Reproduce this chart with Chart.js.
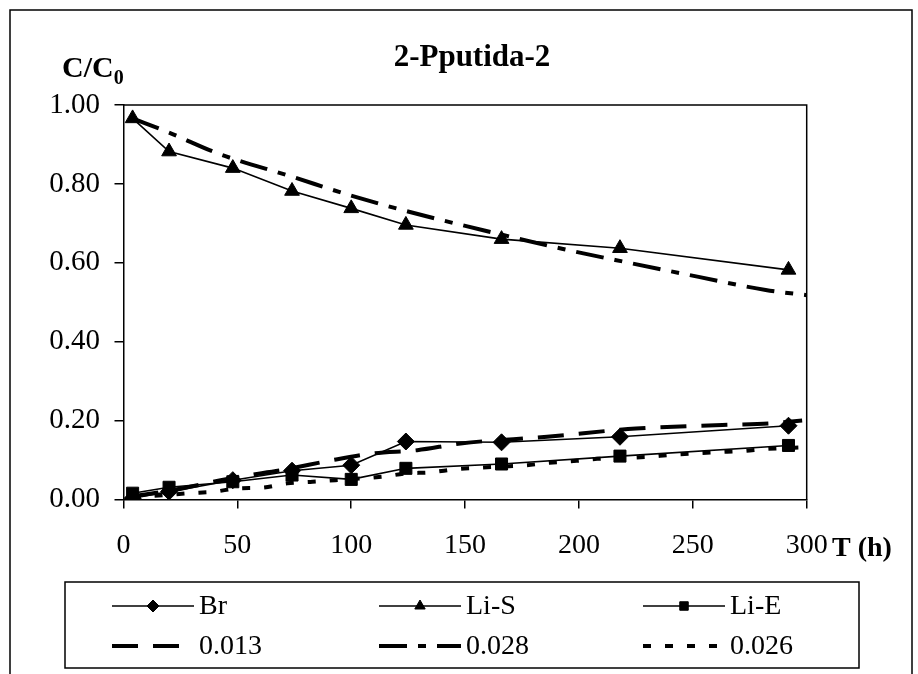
<!DOCTYPE html>
<html>
<head>
<meta charset="utf-8">
<script src="https://cdn.jsdelivr.net/npm/chart.js@4/dist/chart.umd.min.js"></script>
<style>
  html, body { margin: 0; padding: 0; background: #fff; }
  #wrap { width: 918px; height: 674px; }
</style>
</head>
<body>
<div id="wrap"><canvas id="c" width="918" height="674"></canvas></div>
<script>
// Sampling times (h) and measured relative concentrations C/C0
const times = [4, 20, 48, 74, 100, 124, 166, 218, 292];
const brValues = [0.003, 0.020, 0.049, 0.073, 0.087, 0.147, 0.145, 0.159, 0.187];
const liSValues = [0.966, 0.882, 0.840, 0.782, 0.738, 0.696, 0.660, 0.637, 0.582];
const liEValues = [0.016, 0.031, 0.045, 0.062, 0.051, 0.079, 0.090, 0.110, 0.137];

// Fitted model curves (labelled by their parameter)
const fit013Times = [4, 20, 51, 70, 92, 110, 129, 148, 186, 225, 263, 284, 298];
const fit013Values = [0.008, 0.022, 0.058, 0.075, 0.100, 0.117, 0.125, 0.142, 0.159, 0.180, 0.189, 0.193, 0.200];
const fit028Times = [4, 20, 42, 73, 103, 133, 162, 193, 222, 252, 282, 300];
const fit028Values = [0.966, 0.930, 0.876, 0.820, 0.765, 0.718, 0.677, 0.635, 0.600, 0.565, 0.531, 0.518];
const fit026Times = [4, 29, 40, 50, 61, 72, 83, 93, 114, 124, 135, 146, 157, 177, 187, 199, 208, 230, 240, 251, 261, 272, 282, 298];
const fit026Values = [0.005, 0.016, 0.020, 0.028, 0.030, 0.041, 0.045, 0.049, 0.058, 0.066, 0.069, 0.077, 0.081, 0.087, 0.093, 0.098, 0.103, 0.108, 0.113, 0.117, 0.120, 0.123, 0.128, 0.132];

const seriesLabels = ['Br', 'Li-S', 'Li-E', '0.013', '0.028', '0.026'];
const xTicks = [0, 50, 100, 150, 200, 250, 300];
const yTicks = [0, 0.2, 0.4, 0.6, 0.8, 1.0];

const chartTitle = '2-Pputida-2';
const xTitle = 'T (h)';

const SERIF = '"Liberation Serif", "Times New Roman", serif';
const toXY = (xs, ys) => xs.map((x, i) => ({ x: x, y: ys[i] }));

function measured(label, xs, ys, style, radius) {
  return {
    label: label, data: toXY(xs, ys),
    borderColor: '#000', backgroundColor: '#000', borderWidth: 1.6,
    pointStyle: style, pointRadius: radius, pointBorderWidth: 1,
    pointBackgroundColor: '#000', pointBorderColor: '#000',
    tension: 0, fill: false
  };
}
function fitted(label, xs, ys, dash) {
  return {
    label: label, data: toXY(xs, ys),
    borderColor: '#000', backgroundColor: '#000', borderWidth: 4,
    borderDash: dash, borderCapStyle: 'butt',
    pointRadius: 0, tension: 0.3, cubicInterpolationMode: 'monotone', fill: false
  };
}

const datasets = [
  measured(seriesLabels[0], times, brValues, 'rectRot', 8.5),
  measured(seriesLabels[1], times, liSValues, 'triangle', 8.5),
  measured(seriesLabels[2], times, liEValues, 'rect', 8.5),
  fitted(seriesLabels[3], fit013Times, fit013Values, [26, 15]),
  fitted(seriesLabels[4], fit028Times, fit028Values, [28, 11, 8, 11]),
  fitted(seriesLabels[5], fit026Times, fit026Values, [8, 14])
];

// Page background, outer frame, plot box, titles and the boxed legend
const decorations = {
  id: 'decorations',
  beforeDraw(chart) {
    const ctx = chart.ctx;
    ctx.save();
    ctx.fillStyle = '#fff';
    ctx.fillRect(0, 0, chart.width, chart.height);
    ctx.strokeStyle = '#000';
    ctx.lineWidth = 1.5;
    ctx.strokeRect(10, 10, 902, 680);
    ctx.restore();
  },
  afterDraw(chart) {
    const ctx = chart.ctx;
    const a = chart.chartArea;
    ctx.save();
    // top and right edges of the plot box
    ctx.strokeStyle = '#000';
    ctx.lineWidth = 1.5;
    ctx.beginPath();
    ctx.moveTo(a.left, a.top);
    ctx.lineTo(a.right, a.top);
    ctx.lineTo(a.right, a.bottom);
    ctx.stroke();

    ctx.fillStyle = '#000';
    // chart title
    ctx.font = 'bold 31px ' + SERIF;
    ctx.textAlign = 'center';
    ctx.textBaseline = 'alphabetic';
    ctx.fillText(chartTitle, 472, 66);

    // y-axis title C/C0 with subscript
    ctx.textAlign = 'left';
    ctx.font = 'bold 30px ' + SERIF;
    ctx.fillText('C/C', 62, 77);
    const w = ctx.measureText('C/C').width;
    ctx.font = 'bold 20px ' + SERIF;
    ctx.fillText('0', 62 + w, 84);

    // x-axis title
    ctx.font = 'bold 28px ' + SERIF;
    ctx.textBaseline = 'middle';
    ctx.fillText(xTitle, 832, 549);

    // legend box
    ctx.lineWidth = 1.5;
    ctx.strokeRect(65, 582, 794, 86);
    const colX = [112, 379, 643];
    const rowY = [606, 646];
    const sampleLen = 82;
    chart.data.datasets.forEach((ds, i) => {
      const x0 = colX[i % 3];
      const y = rowY[Math.floor(i / 3)];
      ctx.save();
      ctx.strokeStyle = ds.borderColor;
      ctx.lineWidth = ds.borderWidth;
      ctx.lineCap = 'butt';
      ctx.setLineDash(ds.borderDash || []);
      ctx.beginPath();
      ctx.moveTo(x0, y);
      ctx.lineTo(x0 + sampleLen, y);
      ctx.stroke();
      ctx.restore();
      if (ds.pointRadius > 0) {
        ctx.save();
        ctx.fillStyle = '#000';
        ctx.strokeStyle = '#000';
        ctx.lineWidth = 1;
        Chart.helpers.drawPoint(ctx, {
          pointStyle: ds.pointStyle, radius: 6, borderWidth: 1, rotation: 0
        }, x0 + sampleLen / 2, y);
        ctx.restore();
      }
      ctx.font = '28px ' + SERIF;
      ctx.textAlign = 'left';
      ctx.textBaseline = 'middle';
      ctx.fillStyle = '#000';
      ctx.fillText(ds.label, x0 + sampleLen + 5, y + 1);
    });
    ctx.restore();
  }
};

new Chart(document.getElementById('c'), {
  type: 'line',
  data: { datasets: datasets },
  options: {
    responsive: false,
    animation: false,
    devicePixelRatio: 1,
    layout: { padding: { left: 23.5, top: 105, right: 111.3, bottom: 94.5 } },
    scales: {
      x: {
        type: 'linear', min: xTicks[0], max: xTicks[xTicks.length - 1],
        afterBuildTicks: s => { s.ticks = xTicks.map(v => ({ value: v })); },
        afterFit: s => { s.height = 80; },
        ticks: { color: '#000', font: { family: SERIF, size: 28 }, padding: 20, maxRotation: 0,
                 callback: v => String(v) },
        grid: { drawOnChartArea: false, tickLength: 9, color: '#000', lineWidth: 1.5 },
        border: { display: true, color: '#000', width: 1.5 }
      },
      y: {
        type: 'linear', min: yTicks[0], max: yTicks[yTicks.length - 1],
        afterBuildTicks: s => { s.ticks = yTicks.map(v => ({ value: v })); },
        afterFit: s => { s.width = 100; },
        ticks: { color: '#000', font: { family: SERIF, size: 29 }, padding: 14.5,
                 callback: v => Number(v).toFixed(2) },
        grid: { drawOnChartArea: false, tickLength: 9, color: '#000', lineWidth: 1.5 },
        border: { display: true, color: '#000', width: 1.5 }
      }
    },
    plugins: {
      legend: { display: false },
      title: { display: false },
      tooltip: { enabled: false }
    }
  },
  plugins: [decorations]
});
</script>
</body>
</html>
